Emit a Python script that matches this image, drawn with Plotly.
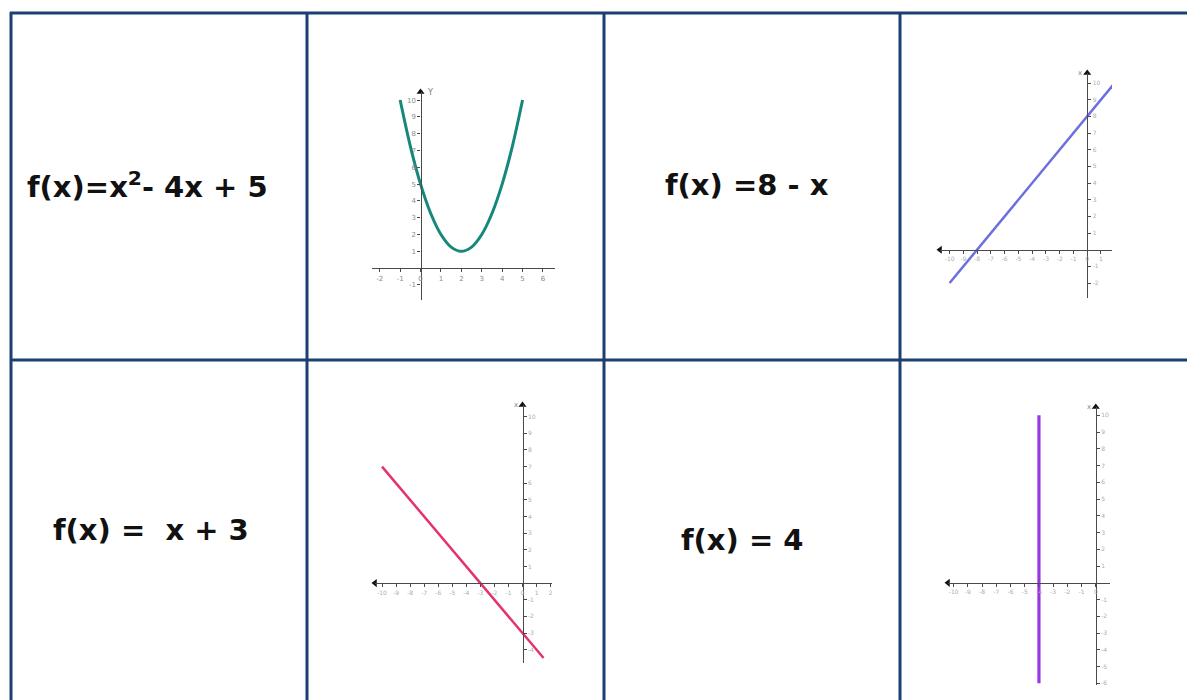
import plotly.graph_objects as go

# ---- data -------------------------------------------------------------
formula_labels = ["f(x)=x<sup>2</sup>- 4x + 5", "f(x) =8 - x", "f(x) =\u00a0\u00a0x + 3", "f(x) = 4"]

parab_x = [-1, -0.5, 0, 0.5, 1, 1.5, 2, 2.5, 3, 3.5, 4, 4.5, 5]
parab_y = [10, 7.25, 5, 3.25, 2, 1.25, 1, 1.25, 2, 3.25, 5, 7.25, 10]

rise_x = [-10, 2]
rise_y = [-2, 10]

fall_x = [-10, 1.5]
fall_y = [7, -4.5]

vert_x = [-4, -4]
vert_y = [-6, 10]

p1_xticks = [-2, -1, 0, 1, 2, 3, 4, 5, 6]
p1_yticks = [-1, 1, 2, 3, 4, 5, 6, 7, 8, 9, 10]
p2_xticks = [-10, -9, -8, -7, -6, -5, -4, -3, -2, -1, 0, 1]
p2_yticks = [-2, -1, 1, 2, 3, 4, 5, 6, 7, 8, 9, 10]
p3_xticks = [-10, -9, -8, -7, -6, -5, -4, -3, -2, -1, 0, 1, 2]
p3_yticks = [-4, -3, -2, -1, 1, 2, 3, 4, 5, 6, 7, 8, 9, 10]
p4_xticks = [-10, -9, -8, -7, -6, -5, -4, -3, -2, -1, 0]
p4_yticks = [-6, -5, -4, -3, -2, -1, 1, 2, 3, 4, 5, 6, 7, 8, 9, 10]

# ---- page geometry (pixels -> paper) ----------------------------------
W, H = 1187, 700


def px(x):
    return x / W


def py(y):
    return 1 - y / H


BORDER = "#1d3f72"
AXIS = "#4a4a4a"
TICKFONT = dict(family="DejaVu Sans", size=7, color="#8a8a8a")
FAINT = dict(family="DejaVu Sans", size=6, color="#adadad")

fig = go.Figure()

# each panel: pixel box of its axes, data ranges, trace data, style
panels = [
    dict(box=(372, 555, 92, 300), xr=(-2.38, 6.59), yr=(-1.9, 10.48),
         xs=parab_x, ys=parab_y, color="#15877b", width=3, shape="spline",
         xt=p1_xticks, yt=p1_yticks, font=TICKFONT, yside="left", xarrow=False),
    dict(box=(940, 1112, 73, 298), xr=(-10.7, 1.8), yr=(-2.9, 10.6),
         xs=rise_x, ys=rise_y, color="#6e6ee0", width=2.5, shape="linear",
         xt=p2_xticks, yt=p2_yticks, font=FAINT, yside="right", xarrow=True),
    dict(box=(375, 552, 405, 663), xr=(-10.5, 2.1), yr=(-4.8, 10.7),
         xs=fall_x, ys=fall_y, color="#e3336c", width=2.5, shape="linear",
         xt=p3_xticks, yt=p3_yticks, font=FAINT, yside="right", xarrow=True),
    dict(box=(948, 1110, 407, 685), xr=(-10.4, 1.0), yr=(-6.1, 10.5),
         xs=vert_x, ys=vert_y, color="#9a35e2", width=3.2, shape="linear",
         xt=p4_xticks, yt=p4_yticks, font=FAINT, yside="right", xarrow=True),
]

layout_axes = {}
for i, p in enumerate(panels, start=1):
    x0, x1, ytop, ybot = p["box"]
    xd = [px(x0), px(x1)]
    yd = [py(ybot), py(ytop)]
    xr, yr = p["xr"], p["yr"]
    # where the origin falls on the page, so both axes cross at (0, 0)
    x_axis_pos = yd[0] + (0 - yr[0]) / (yr[1] - yr[0]) * (yd[1] - yd[0])
    y_axis_pos = xd[0] + (0 - xr[0]) / (xr[1] - xr[0]) * (xd[1] - xd[0])
    xa = "x" if i == 1 else f"x{i}"
    ya = "y" if i == 1 else f"y{i}"
    common = dict(showgrid=False, zeroline=False, showline=True, linecolor=AXIS,
                  linewidth=1.4, ticks="outside", ticklen=3, tickcolor=AXIS,
                  tickwidth=1, tickfont=p["font"], fixedrange=True, anchor="free")
    layout_axes["xaxis" if i == 1 else f"xaxis{i}"] = dict(
        common, domain=xd, range=list(xr), position=x_axis_pos,
        tickvals=p["xt"], ticktext=[str(v) for v in p["xt"]], side="bottom")
    layout_axes["yaxis" if i == 1 else f"yaxis{i}"] = dict(
        common, domain=yd, range=list(yr), position=y_axis_pos,
        tickvals=p["yt"], ticktext=[str(v) for v in p["yt"]], side=p["yside"])

    fig.add_trace(go.Scatter(x=p["xs"], y=p["ys"], mode="lines", xaxis=xa, yaxis=ya,
                             line=dict(color=p["color"], width=p["width"], shape=p["shape"]),
                             hoverinfo="skip", showlegend=False, cliponaxis=False))
    # arrow heads at the ends of the axes
    fig.add_trace(go.Scatter(x=[0], y=[yr[1]], mode="markers", xaxis=xa, yaxis=ya,
                             marker=dict(symbol="triangle-up", size=7, color="#111"),
                             hoverinfo="skip", showlegend=False, cliponaxis=False))
    if p["xarrow"]:
        fig.add_trace(go.Scatter(x=[xr[0]], y=[0], mode="markers", xaxis=xa, yaxis=ya,
                                 marker=dict(symbol="triangle-left", size=7, color="#111"),
                                 hoverinfo="skip", showlegend=False, cliponaxis=False))
        fig.add_annotation(x=0, y=yr[1], xref=xa, yref=ya, text="x", showarrow=False,
                           xanchor="right", yanchor="middle", xshift=-3,
                           font=dict(family="DejaVu Sans", size=7, color="#888"))
    else:
        fig.add_annotation(x=0, y=yr[1], xref=xa, yref=ya, text="Y", showarrow=False,
                           xanchor="left", yanchor="middle", xshift=4,
                           font=dict(family="DejaVu Sans", size=8, color="#777"))

# ---- table borders ----------------------------------------------------
shapes = []
for xv in [11, 307, 604, 900]:
    shapes.append(dict(type="line", xref="paper", yref="paper",
                       x0=px(xv), x1=px(xv), y0=py(12), y1=py(705),
                       line=dict(color=BORDER, width=3)))
for yv in [13, 360]:
    shapes.append(dict(type="line", xref="paper", yref="paper",
                       x0=px(10), x1=px(1190), y0=py(yv), y1=py(yv),
                       line=dict(color=BORDER, width=3)))

# ---- formula cells ----------------------------------------------------
label_pos = [(147, 185), (747, 185), (151, 530), (742, 540)]
for text, (cx, cy) in zip(formula_labels, label_pos):
    fig.add_annotation(x=px(cx), y=py(cy), xref="paper", yref="paper", text=text,
                       showarrow=False, xanchor="center", yanchor="middle",
                       font=dict(family="DejaVu Sans", size=29, color="#111", weight="bold"))

fig.update_layout(width=W, height=H, margin=dict(l=0, r=0, t=0, b=0),
                  paper_bgcolor="white", plot_bgcolor="white",
                  shapes=shapes, showlegend=False, **layout_axes)

fig.write_html("out.html", config={"displayModeBar": False})
